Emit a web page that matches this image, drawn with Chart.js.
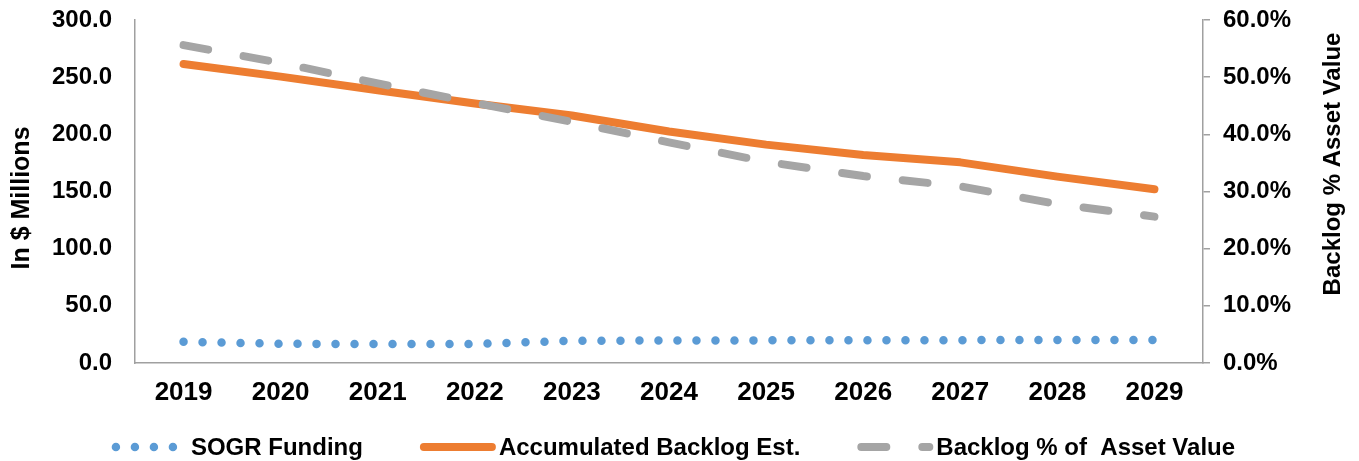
<!DOCTYPE html>
<html>
<head>
<meta charset="utf-8">
<title>SOGR Funding and Backlog</title>
<script src="https://cdn.jsdelivr.net/npm/chart.js@4.4.0/dist/chart.umd.min.js"></script>
<style>
  html, body { margin: 0; padding: 0; background: #ffffff; }
  #wrap { width: 1359px; height: 461px; }
</style>
</head>
<body>
<div id="wrap"><canvas id="backlogChart" width="1359" height="461"></canvas></div>
<script>
const years = ['2019', '2020', '2021', '2022', '2023', '2024', '2025', '2026', '2027', '2028', '2029'];

// $ millions
const sogrFunding = [18.6, 16.8, 16.6, 16.6, 19.4, 19.7, 19.8, 19.9, 20.0, 20.1, 20.1];
const accumulatedBacklog = [261.5, 250.5, 238.5, 227.0, 216.5, 202.5, 191.0, 182.0, 175.5, 163.0, 152.0];

// percent of asset value
const backlogPct = [55.6, 52.5, 48.9, 45.5, 42.2, 38.6, 35.2, 32.7, 30.9, 27.8, 25.6];

const FONT = '"Liberation Sans", Arial, Helvetica, sans-serif';
const AXIS_GREY = '#a0a0a0';

const backlogData = {
    labels: years,
    datasets: [{
        label: 'SOGR Funding',
        data: sogrFunding,
        yAxisID: 'y',
        borderColor: '#5B9BD5',
        borderWidth: 8.5,
        borderDash: [0, 19],
        borderCapStyle: 'round',
        pointRadius: 0,
        tension: 0,
        order: 3
    }, {
        label: 'Accumulated Backlog Est.',
        data: accumulatedBacklog,
        yAxisID: 'y',
        borderColor: '#ED7D31',
        borderWidth: 8,
        borderCapStyle: 'round',
        borderJoinStyle: 'round',
        pointRadius: 0,
        tension: 0,
        order: 2
    }, {
        label: 'Backlog % of  Asset Value',
        data: backlogPct,
        yAxisID: 'y1',
        borderColor: '#A5A5A5',
        borderWidth: 8,
        borderDash: [25, 36],
        borderCapStyle: 'round',
        pointRadius: 0,
        tension: 0,
        order: 1
    }]
};

// Axis titles (right one reads bottom to top)
const axisTitles = {
    id: 'axisTitles',
    afterDraw(chart) {
        const ctx = chart.ctx;
        ctx.save();
        ctx.fillStyle = '#000';
        ctx.textAlign = 'center';
        ctx.textBaseline = 'middle';

        ctx.save();
        ctx.font = 'bold 25px ' + FONT;
        ctx.translate(22, 198);
        ctx.rotate(-Math.PI / 2);
        ctx.fillText('In $ Millions', 0, 0);
        ctx.restore();

        ctx.save();
        ctx.font = 'bold 24px ' + FONT;
        ctx.translate(1333, 164);
        ctx.rotate(-Math.PI / 2);
        ctx.fillText('Backlog % Asset Value', 0, 0);
        ctx.restore();

        ctx.restore();
    }
};

// Legend along the bottom with line samples in each series' style
const bottomLegend = {
    id: 'bottomLegend',
    afterDraw(chart) {
        const ctx = chart.ctx;
        const y = 447;
        const sampleLen = 68;
        const textOffset = 79;
        const itemGap = 57;
        ctx.save();
        ctx.font = 'bold 24px ' + FONT;
        const items = chart.data.datasets.map(ds => ({
            ds: ds,
            w: textOffset + ctx.measureText(ds.label).width
        }));
        const total = items.reduce((s, it) => s + it.w, 0) + itemGap * (items.length - 1);
        let x = (chart.width - total) / 2 - 6;
        items.forEach(it => {
            const ds = it.ds;
            ctx.save();
            ctx.strokeStyle = ds.borderColor;
            ctx.lineWidth = ds.borderWidth;
            ctx.lineCap = 'round';
            ctx.setLineDash(ds.borderDash || []);
            ctx.beginPath();
            ctx.moveTo(x + 4, y);
            ctx.lineTo(x + 4 + sampleLen, y);
            ctx.stroke();
            ctx.restore();

            ctx.fillStyle = '#000';
            ctx.textAlign = 'left';
            ctx.textBaseline = 'alphabetic';
            ctx.fillText(ds.label, x + textOffset, y + 8);
            x += it.w + itemGap;
        });
        ctx.restore();
    }
};

// fixed axis widths; the top label overhang is covered by layout padding
function fixVertical(width) {
    return function (scale) {
        scale.width = width;
        scale.paddingTop = 0;
        scale.paddingBottom = 0;
    };
}

const backlogChartConfig = {
    type: 'line',
    data: backlogData,
    options: {
        responsive: false,
        animation: false,
        layout: {
            padding: { top: 20, left: 0, right: 0, bottom: 0 }
        },
        plugins: {
            legend: { display: false },
            tooltip: { enabled: false }
        },
        scales: {
            x: {
                offset: true,
                grid: { display: false, drawTicks: false },
                border: { display: true, color: AXIS_GREY, width: 1.5 },
                ticks: {
                    color: '#000',
                    font: { family: FONT, size: 26, weight: 'bold' },
                    padding: 14,
                    maxRotation: 0,
                    autoSkip: false
                },
                afterFit(scale) { scale.height = 98; }
            },
            y: {
                position: 'left',
                min: 0,
                max: 300,
                grid: { display: false, drawTicks: false },
                border: { display: true, color: AXIS_GREY, width: 1.5 },
                ticks: {
                    stepSize: 50,
                    color: '#000',
                    font: { family: FONT, size: 24, weight: 'bold' },
                    padding: 23,
                    callback: v => v.toFixed(1)
                },
                afterFit: fixVertical(135)
            },
            y1: {
                position: 'right',
                min: 0,
                max: 60,
                grid: {
                    display: true,
                    drawOnChartArea: false,
                    drawTicks: true,
                    tickLength: 7,
                    color: AXIS_GREY,
                    lineWidth: 1.5
                },
                border: { display: true, color: AXIS_GREY, width: 1.5 },
                ticks: {
                    stepSize: 10,
                    color: '#000',
                    font: { family: FONT, size: 24, weight: 'bold' },
                    padding: 13,
                    callback: v => v.toFixed(1) + '%'
                },
                afterFit: fixVertical(156)
            }
        }
    },
    plugins: [axisTitles, bottomLegend]
};

window.onload = function () {
    const ctx = document.getElementById('backlogChart').getContext('2d');
    new Chart(ctx, backlogChartConfig);
};
</script>
</body>
</html>
